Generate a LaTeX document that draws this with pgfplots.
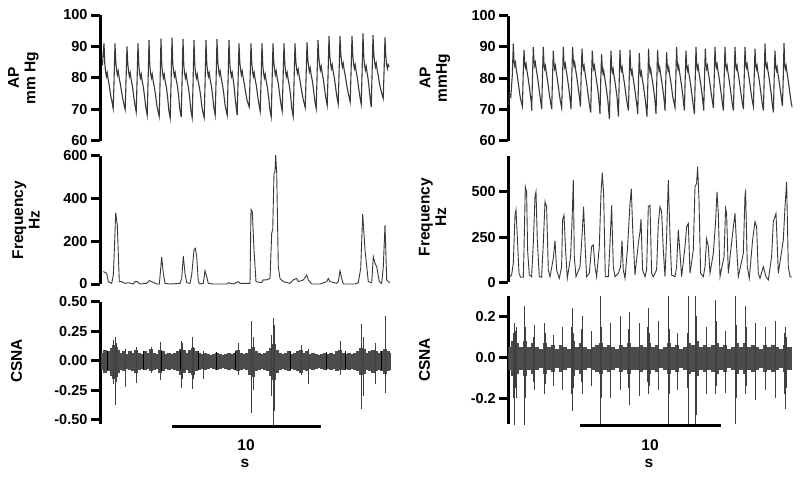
\documentclass[border=0pt]{standalone}
\usepackage{fontspec}
\setmainfont{Liberation Sans}
\usepackage{pgfplots}
\pgfplotsset{compat=1.18}
\pgfplotsset{
  panel/.style={scale only axis, anchor=south west,
    axis x line=none, axis y line*=left,
    axis line style={-,line width=3pt,black},
    tick align=outside, major tick length=9pt, ytick pos=left, xtick=\empty,
    major tick style={line width=3pt,black},
    yticklabel style={font=\bfseries\fontsize{14.5}{14.5}\selectfont},
    /pgf/number format/assume math mode=true},
  trace/.style={black!78, line width=1.1pt},
}
\begin{document}
\begin{tikzpicture}
\useasboundingbox (0,0) rectangle (800pt,477pt);
% ---------- LEFT AP ----------
\begin{axis}[panel, at={(100pt,336pt)}, width=290pt, height=126pt,
  xmin=0, xmax=290, ymin=60, ymax=100, ytick={60,70,80,90,100}]
\addplot[trace] coordinates {
(2.5,84) (3.2,88)
(4,91) (4.8,84.5) (5.6,82) (6.4,80.5) (7.2,81.7) (8.2,79.5) (9.4,77.5) (10.6,74.5) (11.8,72.8) (13.2,70.3) (14.1,79.5)
(15,91) (15.8,85) (16.6,82.5) (17.4,81) (18.2,82.2) (19.2,80) (20.4,78) (21.6,75.5) (23,73) (25.2,70) (26.1,80)
(27,90) (27.8,84.5) (28.6,82) (29.4,80.5) (30.2,81.7) (31.2,79.5) (32.4,77.5) (33.6,74.5) (34.8,71.7) (36.2,69.2) (37.1,79.5)
(38,91) (38.8,84) (39.6,81.5) (40.4,80) (41.2,81.2) (42.2,79) (43.4,77) (44.6,74) (45.8,70.7) (47.2,68.2) (48.1,79)
(49,92) (49.8,84) (50.6,81.5) (51.4,80) (52.2,81.2) (53.2,79) (54.4,77) (55.6,74.5) (57,71) (59.2,67.8) (60.1,79)
(61,92.5) (61.8,84) (62.6,81.5) (63.4,80) (64.2,81.2) (65.2,79) (66.4,77) (67.6,74) (68.8,69.8) (70.2,67.3) (71.1,79)
(72,92.8) (72.8,84.5) (73.6,82) (74.4,80.5) (75.2,81.7) (76.2,79.5) (77.4,77.5) (78.6,74.5) (79.8,70.1) (81.2,67.6) (82.1,79.5)
(83,92.4) (83.8,84) (84.6,81.5) (85.4,80) (86.2,81.2) (87.2,79) (88.4,77) (89.6,74) (90.8,69.9) (92.2,67.4) (93.1,79)
(94,92) (94.8,84) (95.6,81.5) (96.4,80) (97.2,81.2) (98.2,79) (99.4,77) (100.6,74.5) (102,70.5) (104.2,67.4) (105.1,79)
(106,92) (106.8,84.5) (107.6,82) (108.4,80.5) (109.2,81.7) (110.2,79.5) (111.4,77.5) (112.6,74.5) (113.8,70.7) (115.2,68.2) (116.1,79.5)
(117,92.3) (117.8,85) (118.6,82.5) (119.4,81) (120.2,82.2) (121.2,80) (122.4,78) (123.6,75.5) (125,71.5) (127.2,68.2) (128.1,80)
(129,92) (129.8,84.5) (130.6,82) (131.4,80.5) (132.2,81.7) (133.2,79.5) (134.2,77) (135.2,73.5) (136.2,70.7) (137.2,68.2) (138.1,79.5)
(139,91) (139.8,85) (140.6,82.5) (141.4,81) (142.2,82.2) (143.2,80) (144.4,78) (145.6,75.5) (147,73) (149.2,70.8) (150.1,80)
(151,91) (151.8,84.5) (152.6,82) (153.4,80.5) (154.2,81.7) (155.2,79.5) (156.4,77.5) (157.6,74.5) (158.8,71.9) (160.2,69.4) (161.1,79.5)
(162,91) (162.8,84) (163.6,81.5) (164.4,80) (165.2,81.2) (166.2,79) (167.4,77) (168.6,74) (169.8,70.1) (171.2,67.6) (172.1,79)
(173,91) (173.8,85) (174.6,82.5) (175.4,81) (176.2,82.2) (177.2,80) (178.4,78) (179.6,75) (180.8,72) (182.2,69.5) (183.1,80)
(184,91) (184.8,84.5) (185.6,82) (186.4,80.5) (187.2,81.7) (188.2,79.5) (189.4,77.5) (190.6,74.5) (191.8,70.3) (193.2,67.8) (194.1,79.5)
(195,91) (195.8,85.5) (196.6,83) (197.4,81.5) (198.2,82.7) (199.2,80.5) (200.4,78.5) (201.6,76) (203,73.5) (205.2,70.6) (206.1,80.5)
(207,91.3) (207.8,86) (208.6,83.5) (209.4,82) (210.2,83.2) (211.2,81) (212.4,79) (213.6,76) (214.8,72.8) (216.2,70.3) (217.1,81)
(218,92) (218.8,86.5) (219.6,84) (220.4,82.5) (221.2,83.7) (222.2,81.5) (223.4,79.5) (224.6,76.5) (225.8,73.8) (227.2,71.3) (228.1,81.5)
(229,93.3) (229.8,87) (230.6,84.5) (231.4,83) (232.2,84.2) (233.2,82) (234.4,80) (235.6,77) (236.8,74.2) (238.2,71.7) (239.1,82)
(240,93.4) (240.8,87.5) (241.6,85) (242.4,83.5) (243.2,84.7) (244.2,82.5) (245.4,80.5) (246.6,78) (248,75.5) (250.2,72.4) (251.1,82.5)
(252,93.3) (252.8,87) (253.6,84.5) (254.4,83) (255.2,84.2) (256.2,82) (257.4,80) (258.6,77) (259.8,74.2) (261.2,71.7) (262.1,82)
(263,94.2) (263.8,86.5) (264.6,84) (265.4,82.5) (266.2,83.7) (267.2,81.5) (268.2,79.5) (269.2,76.5) (270.2,73.3) (271.2,70.8) (272.1,81.5)
(273,93.6) (273.8,87.5) (274.6,85) (275.4,83.5) (276.2,84.7) (277.2,82.5) (278.4,80.5) (279.6,78) (281,76) (283.2,73.5) (284.1,82.5)
(285,92.9) (285.8,87) (286.6,84.5) (287.4,83) (288.2,84.2) (289,83.5)
};
\end{axis}
% ---------- LEFT FREQUENCY ----------
\begin{axis}[panel, at={(100pt,193pt)}, width=290pt, height=128.3pt,
  xmin=0, xmax=290, ymin=0, ymax=600, ytick={0,200,400,600}]
\addplot[trace, line width=0.9pt] coordinates {
(3.3,58) (6.7,50) (8.3,11) (11.7,3) (13.3,42) (14.3,151) (15.7,333) (17.3,276) (19.3,11) (21.7,11) (25,3) (28.3,6) (33.3,0) (35,11) (37.3,11) (40,0) (46.7,3) (49.3,16) (51.7,11) (56.7,0) (59.3,0) (60,34) (61.7,125) (63.3,50) (65,3) (70,0) (80,3) (81.7,26) (83.3,131) (85,50) (86.7,6) (90,3) (91.7,42) (92.7,93) (94,159) (95.3,167) (96.7,128) (98.3,11) (100,0) (103.3,3) (105,62) (106.7,34) (108.3,3) (113.3,0) (126.7,0) (128.3,6) (133.3,0) (138.3,11) (140,3) (150,3) (151,349) (152.3,338) (154,159) (156,11) (161.7,6) (163.3,19) (166.7,19) (170,26) (171.7,237) (172.7,255) (174,517) (175,525) (175.7,603) (176.7,517) (178.3,81) (180,26) (183.3,11) (190,3) (193.3,19) (196.7,26) (198.3,11) (203.3,19) (206.7,42) (208.3,19) (211.7,0) (220,0) (226.7,11) (228.3,26) (230,11) (236.7,3) (238.3,11) (240,62) (241.7,26) (243.3,0) (255,0) (258.3,6) (260.7,73) (262.7,327) (265,159) (268.3,11) (271.7,6) (273.3,128) (275,97) (276.7,81) (279.3,11) (281.7,3) (283.3,81) (285,276) (286.7,19) (288.3,11) (290,6)
};
\end{axis}
% ---------- LEFT CSNA ----------
\begin{axis}[panel, at={(100pt,52.9pt)}, width=290pt, height=122.4pt, clip=false,
  xmin=0, xmax=290, ymin=-0.535, ymax=0.5, ytick={-0.5,-0.25,0,0.25,0.5},
  yticklabel style={/pgf/number format/.cd, fixed, fixed zerofill, precision=2}]
\addplot[ycomb, black!70, line width=3.2pt, mark=none] coordinates {
(3,0.07) (5,0.09) (9,0.08) (12,0.11) (14,0.13) (16,0.12) (18,0.09) (21,0.07) (24,0.08) (27,0.06) (30,0.08) (33,0.07) (36,0.09) (39,0.07) (42,0.06) (45,0.08) (48,0.07) (51,0.1) (54,0.07) (57,0.06) (60,0.09) (63,0.08) (66,0.06) (69,0.07) (72,0.06) (75,0.07) (78,0.08) (81,0.1) (84,0.09) (87,0.07) (90,0.09) (93,0.11) (96,0.08) (99,0.07) (102,0.06) (105,0.07) (108,0.06) (111,0.05) (114,0.06) (117,0.07) (120,0.06) (123,0.05) (126,0.06) (129,0.07) (132,0.06) (135,0.07) (138,0.09) (141,0.07) (144,0.06) (147,0.07) (150,0.1) (153,0.12) (156,0.08) (159,0.07) (162,0.06) (165,0.07) (168,0.08) (171,0.11) (174,0.14) (177,0.09) (180,0.07) (183,0.06) (186,0.07) (189,0.08) (192,0.06) (195,0.07) (198,0.08) (201,0.09) (204,0.07) (207,0.08) (210,0.06) (213,0.07) (216,0.06) (219,0.05) (222,0.06) (225,0.07) (228,0.06) (231,0.07) (234,0.06) (237,0.08) (240,0.09) (243,0.07) (246,0.06) (249,0.07) (252,0.06) (255,0.07) (258,0.08) (261,0.11) (264,0.1) (267,0.07) (270,0.08) (273,0.09) (276,0.08) (279,0.07) (282,0.08) (285,0.1) (288,0.08) (289.5,0.07)
(3,-0.08) (5,-0.1) (9,-0.09) (12,-0.13) (14,-0.15) (16,-0.14) (18,-0.1) (21,-0.08) (24,-0.09) (27,-0.07) (30,-0.08) (33,-0.09) (36,-0.1) (39,-0.08) (42,-0.07) (45,-0.08) (48,-0.07) (51,-0.09) (54,-0.08) (57,-0.07) (60,-0.1) (63,-0.09) (66,-0.07) (69,-0.08) (72,-0.07) (75,-0.08) (78,-0.09) (81,-0.12) (84,-0.1) (87,-0.08) (90,-0.1) (93,-0.12) (96,-0.09) (99,-0.08) (102,-0.07) (105,-0.08) (108,-0.07) (111,-0.06) (114,-0.07) (117,-0.08) (120,-0.07) (123,-0.06) (126,-0.07) (129,-0.08) (132,-0.07) (135,-0.08) (138,-0.09) (141,-0.08) (144,-0.07) (147,-0.08) (150,-0.12) (153,-0.14) (156,-0.09) (159,-0.08) (162,-0.07) (165,-0.08) (168,-0.09) (171,-0.13) (174,-0.16) (177,-0.1) (180,-0.08) (183,-0.07) (186,-0.08) (189,-0.09) (192,-0.07) (195,-0.08) (198,-0.09) (201,-0.1) (204,-0.08) (207,-0.09) (210,-0.07) (213,-0.08) (216,-0.07) (219,-0.06) (222,-0.07) (225,-0.08) (228,-0.07) (231,-0.08) (234,-0.07) (237,-0.09) (240,-0.08) (243,-0.08) (246,-0.07) (249,-0.08) (252,-0.07) (255,-0.08) (258,-0.09) (261,-0.12) (264,-0.11) (267,-0.08) (270,-0.09) (273,-0.1) (276,-0.09) (279,-0.08) (282,-0.09) (285,-0.11) (288,-0.09) (289.5,-0.08)
};
\addplot[ycomb, black, line width=0.6pt, mark=none] coordinates {
(7,0.08) (7,-0.08) (25,0.085) (25,-0.085) (43.3,0.08) (43.3,-0.08) (61,0.085) (61,-0.085) (80,0.08) (80,-0.08) (98.3,0.08) (98.3,-0.08) (116.7,0.075) (116.7,-0.075) (135,0.08) (135,-0.08) (153.3,0.09) (153.3,-0.09) (171.7,0.09) (171.7,-0.09) (190,0.08) (190,-0.08) (208.3,0.08) (208.3,-0.08) (226.7,0.075) (226.7,-0.075) (245,0.08) (245,-0.08) (263.3,0.09) (263.3,-0.09) (281.7,0.08) (281.7,-0.08)
};
\addplot[ycomb, black!75, line width=0.8pt, mark=none] coordinates {
(13.3,0.18) (13.3,-0.2) (15,0.2) (15,-0.37) (16.7,0.15) (16.7,-0.18) (25,0.1) (25,-0.22) (36.7,0.12) (36.7,-0.19) (51.7,0.12) (51.7,-0.1) (60.7,0.16) (60.7,-0.16) (81.7,0.17) (81.7,-0.23) (82.7,0.15) (82.7,-0.15) (92.7,0.2) (92.7,-0.24) (93.7,0.12) (93.7,-0.15) (103.3,0.08) (103.3,-0.15) (138.3,0.15) (138.3,-0.12) (151.7,0.34) (151.7,-0.44) (153.3,0.2) (153.3,-0.25) (171.7,0.22) (171.7,-0.3) (173.3,0.36) (173.3,-0.56) (174.3,0.3) (174.3,-0.42) (201.7,0.13) (201.7,-0.12) (208.3,0.1) (208.3,-0.2) (240,0.17) (240,-0.12) (261.7,0.31) (261.7,-0.41) (263.3,0.2) (263.3,-0.3) (275,0.15) (275,-0.2) (285,0.375) (285,-0.27)
};
\end{axis}
% ---------- RIGHT AP ----------
\begin{axis}[panel, at={(508.3pt,336pt)}, width=284pt, height=125.5pt,
  xmin=0, xmax=284, ymin=60, ymax=100, ytick={60,70,80,90,100}]
\addplot[trace] coordinates {
(0.5,71.5) (1,75) (2.5,74) (4,81)
(5,91) (5.7,85.5) (6.4,84) (7.1,85) (7.9,83) (8.9,81) (10,78.5) (11.2,75.5) (12.2,73.5) (14.1,71) (14.9,81)
(15.7,89) (16.4,85) (17.1,83.5) (17.8,84.5) (18.6,82.5) (19.6,80.5) (20.7,78) (21.9,75) (22.9,72.5) (23.4,69.7) (24.2,80.5)
(25,90) (25.7,85.5) (26.4,84) (27.1,85) (27.9,83) (28.9,81) (30,78.5) (31.2,75.5) (32.2,73) (33.4,70.2) (34.2,81)
(35,90) (35.7,84.5) (36.4,83) (37.1,84) (37.9,82) (38.9,80) (40,77.5) (41.2,74.5) (42.2,72.5) (43.4,70.2) (44.2,80)
(45,88.8) (45.7,84.5) (46.4,83) (47.1,84) (47.9,82) (48.9,80) (50,77.5) (51.2,74.5) (52.2,72.5) (53.4,70.5) (54.2,80)
(55,90) (55.7,85) (56.4,83.5) (57.1,84.5) (57.9,82.5) (58.9,80.5) (60,78) (61.2,75) (62,72.5) (62.7,70.2) (63.5,80.5)
(64.3,90) (65,85.5) (65.7,84) (66.4,85) (67.2,83) (68.2,81) (69.3,78.5) (70.5,75.5) (71.3,73.5) (72.1,71) (72.9,81)
(73.7,89.4) (74.4,84.5) (75.1,83) (75.8,84) (76.6,82) (77.6,80) (78.7,77.5) (79.9,74.5) (80.9,72) (82.4,69.1) (83.2,80)
(84,88.8) (84.7,84.5) (85.4,83) (86.1,84) (86.9,82) (87.9,80) (89,77.5) (90.2,74.5) (91,71.5) (91.7,68.6) (92.5,80)
(93.3,87.8) (94,83) (94.7,81.5) (95.4,82.5) (96.2,80.5) (97.2,78.5) (98.3,76) (99.5,73) (100.3,70) (101.1,67) (101.9,78.5)
(102.7,88.8) (103.4,83.5) (104.1,82) (104.8,83) (105.6,81) (106.6,79) (107.7,76.5) (108.9,73.5) (109.5,70.5) (110.1,67.8) (110.9,79)
(111.7,89) (112.4,84) (113.1,82.5) (113.8,83.5) (114.6,81.5) (115.6,79.5) (116.7,77) (117.9,74) (118.9,72) (120.1,69.7) (120.9,79.5)
(121.7,89) (122.4,83) (123.1,81.5) (123.8,82.5) (124.6,80.5) (125.6,78.5) (126.7,76) (127.9,73) (128.7,71) (129.4,68.6) (130.2,78.5)
(131,88) (131.7,82.5) (132.4,81) (133.1,82) (133.9,80) (134.9,78) (136,75.5) (137.2,72.5) (138,70) (138.7,67.8) (139.5,78)
(140.3,89.4) (141,83.5) (141.7,82) (142.4,83) (143.2,81) (144.2,79) (145.3,76.5) (146.5,73.5) (147.1,71) (147.7,68.6) (148.5,79)
(149.3,89) (150,84) (150.7,82.5) (151.4,83.5) (152.2,81.5) (153.2,79.5) (154.3,77) (155.5,74) (156.1,72) (156.7,69.7) (157.5,79.5)
(158.3,88.3) (159,84) (159.7,82.5) (160.4,83.5) (161.2,81.5) (162.2,79.5) (163.3,77) (164.5,74) (165.5,72.5) (166.7,70.7) (167.5,79.5)
(168.3,90) (169,84.5) (169.7,83) (170.4,84) (171.2,82) (172.2,80) (173.3,77.5) (174.5,74.5) (175.3,72) (176.1,69.7) (176.9,80)
(177.7,88.8) (178.4,84) (179.1,82.5) (179.8,83.5) (180.6,81.5) (181.6,79.5) (182.7,77) (183.9,74) (184.9,71.5) (186.1,68.6) (186.9,79.5)
(187.7,90) (188.4,84.5) (189.1,83) (189.8,84) (190.6,82) (191.6,80) (192.7,77.5) (193.9,74.5) (194.7,72) (195.4,69.7) (196.2,80)
(197,89.4) (197.7,84.5) (198.4,83) (199.1,84) (199.9,82) (200.9,80) (202,77.5) (203.2,74.5) (204.2,72.5) (205.1,70.5) (205.9,80)
(206.7,90) (207.4,85) (208.1,83.5) (208.8,84.5) (209.6,82.5) (210.6,80.5) (211.7,78) (212.9,75) (213.9,72.5) (215.1,69.7) (215.9,80.5)
(216.7,90) (217.4,84.5) (218.1,83) (218.8,84) (219.6,82) (220.6,80) (221.7,77.5) (222.9,74.5) (223.9,72) (225.1,69.7) (225.9,80)
(226.7,90) (227.4,84.5) (228.1,83) (228.8,84) (229.6,82) (230.6,80) (231.7,77.5) (232.9,74.5) (233.9,72.5) (235.1,70.2) (235.9,80)
(236.7,90) (237.4,85) (238.1,83.5) (238.8,84.5) (239.6,82.5) (240.6,80.5) (241.7,78) (242.9,75) (243.9,73) (245.1,71) (245.9,80.5)
(246.7,89.4) (247.4,84.5) (248.1,83) (248.8,84) (249.6,82) (250.6,80) (251.7,77.5) (252.9,74.5) (253.9,72) (255.1,69.7) (255.9,80)
(256.7,91) (257.4,85) (258.1,83.5) (258.8,84.5) (259.6,82.5) (260.6,80.5) (261.7,78) (262.9,75) (263.9,72) (265.1,69.1) (265.9,80.5)
(266.7,88.8) (267.4,84) (268.1,82.5) (268.8,83.5) (269.6,81.5) (270.6,79.5) (271.7,77) (272.9,74) (273.5,72.5) (274.1,71.2) (274.9,79.5)
(275.7,91.2) (276.4,84.5) (277.1,83) (277.8,84) (278.6,82) (279.6,80) (280.7,77.5) (281.9,74.5) (283,72) (284,70.7)
};
\end{axis}
% ---------- RIGHT FREQUENCY ----------
\begin{axis}[panel, at={(508.3pt,194.7pt)}, width=284pt, height=126.8pt,
  xmin=0, xmax=284, ymin=0, ymax=700, ytick={0,250,500}]
\addplot[trace, line width=0.9pt] coordinates {
(1.7,31) (3.3,40) (5,105) (6.7,371) (7.7,399) (9,252) (10.7,50) (12.3,28) (15,28) (15.7,178) (17,528) (18.3,500) (19.3,178) (21,40) (23.3,31) (25,215) (26.7,472) (27.7,500) (29,233) (31,31) (33.3,28) (35,215) (36.7,445) (38.3,417) (40,68) (41.7,31) (45,132) (46.7,230) (48.3,68) (51,22) (53.3,86) (54.3,344) (55.7,371) (57.3,178) (59,22) (62.3,141) (63.7,335) (65,564) (66,141) (67.7,31) (71.7,86) (73.7,252) (75.3,417) (77,178) (78.3,31) (81,50) (83.3,197) (85,206) (86.7,86) (88.3,31) (91,197) (92.7,491) (94,605) (95.3,491) (97,31) (100,31) (101.7,215) (103.3,425) (105,86) (106.7,31) (110,50) (112.3,86) (113.7,230) (115,68) (116.7,22) (119.3,197) (121.7,436) (123,515) (124.3,307) (126.7,40) (130,215) (131.7,279) (132.7,348) (134.3,68) (136.7,31) (138.3,68) (140,417) (141.7,426) (143.3,50) (145,31) (148.3,68) (150,325) (151.7,417) (153.3,390) (155,178) (156.7,31) (158.3,252) (160,564) (161.7,252) (163.3,40) (166.7,31) (168.3,86) (170,290) (171.7,160) (173.3,31) (176.7,197) (178.3,307) (180,325) (181.7,50) (185,178) (186.7,528) (188.3,546) (189.3,638) (190.7,454) (192.3,50) (195,31) (196.7,86) (198.3,240) (200,197) (201.7,50) (205,160) (207.3,335) (208.7,500) (210,381) (211.7,31) (215.7,141) (217.3,408) (218.3,381) (220,50) (224.3,270) (226.7,381) (228.3,197) (230,31) (235,160) (236.7,482) (237.3,500) (239,86) (241,22) (244.3,233) (246.7,335) (248.3,307) (250,50) (251.7,22) (255,86) (257.7,31) (260,13) (263.3,141) (265,335) (267.7,380) (270,50) (275,233) (276.7,417) (278.3,555) (280,86) (281.7,31) (283.3,28)
};
\end{axis}
% ---------- RIGHT CSNA ----------
\begin{axis}[panel, at={(508.3pt,53pt)}, width=284pt, height=128pt,
  xmin=0, xmax=284, ymin=-0.325, ymax=0.3, ytick={-0.2,0,0.2},
  yticklabel style={/pgf/number format/.cd, fixed, fixed zerofill, precision=1}]
\addplot[ycomb, black!70, line width=4.2pt, mark=none] coordinates {
(2,0.05) (5,0.08) (9,0.07) (13,0.05) (17,0.08) (21,0.05) (25,0.07) (29,0.05) (33,0.04) (37,0.07) (41,0.05) (45,0.06) (49,0.04) (53,0.06) (57,0.05) (61,0.04) (65,0.08) (69,0.05) (73,0.07) (77,0.05) (81,0.04) (85,0.05) (89,0.06) (93,0.07) (97,0.05) (101,0.06) (105,0.05) (109,0.04) (113,0.06) (117,0.05) (121,0.07) (125,0.05) (129,0.05) (133,0.06) (137,0.05) (141,0.07) (145,0.05) (149,0.06) (153,0.04) (157,0.05) (161,0.07) (165,0.05) (169,0.06) (173,0.04) (177,0.05) (181,0.07) (185,0.06) (189,0.08) (193,0.05) (197,0.06) (201,0.05) (205,0.06) (209,0.07) (213,0.05) (217,0.06) (221,0.04) (225,0.05) (229,0.07) (233,0.05) (237,0.07) (241,0.05) (245,0.06) (249,0.05) (253,0.04) (257,0.06) (261,0.05) (265,0.06) (269,0.05) (273,0.04) (277,0.06) (281,0.05) (282,0.05)
(2,-0.06) (5,-0.09) (9,-0.08) (13,-0.06) (17,-0.09) (21,-0.06) (25,-0.08) (29,-0.06) (33,-0.05) (37,-0.08) (41,-0.06) (45,-0.07) (49,-0.05) (53,-0.07) (57,-0.06) (61,-0.05) (65,-0.09) (69,-0.06) (73,-0.08) (77,-0.06) (81,-0.05) (85,-0.06) (89,-0.07) (93,-0.08) (97,-0.06) (101,-0.07) (105,-0.06) (109,-0.05) (113,-0.07) (117,-0.06) (121,-0.08) (125,-0.06) (129,-0.06) (133,-0.07) (137,-0.06) (141,-0.08) (145,-0.06) (149,-0.07) (153,-0.05) (157,-0.06) (161,-0.08) (165,-0.06) (169,-0.07) (173,-0.05) (177,-0.06) (181,-0.08) (185,-0.07) (189,-0.09) (193,-0.06) (197,-0.07) (201,-0.06) (205,-0.07) (209,-0.08) (213,-0.06) (217,-0.07) (221,-0.05) (225,-0.06) (229,-0.08) (233,-0.06) (237,-0.08) (241,-0.06) (245,-0.07) (249,-0.06) (253,-0.05) (257,-0.07) (261,-0.06) (265,-0.07) (269,-0.06) (273,-0.05) (277,-0.07) (281,-0.06) (282,-0.06)
};
\addplot[ycomb, black!75, line width=0.8pt, mark=none] coordinates {
(6,0.17) (6,-0.33) (8.3,0.15) (8.3,-0.2) (15.7,0.25) (15.7,-0.33) (25.7,0.16) (25.7,-0.16) (36,0.17) (36,-0.18) (45,0.11) (45,-0.14) (54,0.15) (54,-0.16) (64,0.24) (64,-0.26) (74,0.2) (74,-0.18) (83.3,0.13) (83.3,-0.14) (91.7,0.3) (91.7,-0.325) (101.7,0.17) (101.7,-0.2) (111.7,0.2) (111.7,-0.16) (121,0.22) (121,-0.23) (130.7,0.17) (130.7,-0.19) (140,0.24) (140,-0.18) (150,0.18) (150,-0.16) (160,0.3) (160,-0.325) (169.3,0.12) (169.3,-0.16) (180,0.3) (180,-0.325) (187.3,0.3) (187.3,-0.325) (188.5,0.2) (188.5,-0.28) (197.7,0.15) (197.7,-0.18) (206.7,0.28) (206.7,-0.18) (216.7,0.13) (216.7,-0.175) (226.7,0.3) (226.7,-0.325) (236.7,0.25) (236.7,-0.18) (246.7,0.17) (246.7,-0.21) (256.7,0.15) (256.7,-0.16) (266.7,0.18) (266.7,-0.2) (276.7,0.15) (276.7,-0.25)
(5,0.12) (5,-0.2) (7,0.13) (7,-0.15) (16.7,0.15) (16.7,-0.2) (24.7,0.1) (24.7,-0.12) (37,0.12) (37,-0.13) (63,0.15) (63,-0.18) (65,0.12) (65,-0.15) (73,0.14) (73,-0.12) (92.7,0.15) (92.7,-0.2) (120,0.14) (120,-0.15) (139,0.15) (139,-0.12) (141,0.12) (141,-0.14) (161,0.14) (161,-0.18) (179,0.12) (179,-0.15) (207.7,0.18) (207.7,-0.14) (227.7,0.16) (227.7,-0.2) (237.7,0.15) (237.7,-0.14) (275.7,0.12) (275.7,-0.18) (277.7,0.1) (277.7,-0.15)
};
\end{axis}
% ---------- labels ----------
\begin{scope}[every node/.style={font=\bfseries\fontsize{15.5}{16.5}\selectfont, align=center}]
\node[rotate=90] at (23.5pt,399pt) {AP\\mm Hg};
\node[rotate=90] at (26pt,257pt) {Frequency\\Hz};
\node[rotate=90] at (16.5pt,116pt) {CSNA};
\node[rotate=90] at (435pt,399pt) {AP\\mmHg};
\node[rotate=90] at (432.5pt,260pt) {Frequency\\Hz};
\node[rotate=90] at (424.5pt,117pt) {CSNA};
\node at (246pt,32pt) {10};
\node at (245pt,14pt) {s};
\node at (650pt,32pt) {10};
\node at (649pt,14pt) {s};
\end{scope}
\draw[line width=3pt] (171.7pt,51pt) -- (320.7pt,51pt);
\draw[line width=3pt] (580pt,52pt) -- (721pt,52pt);
\end{tikzpicture}
\end{document}
